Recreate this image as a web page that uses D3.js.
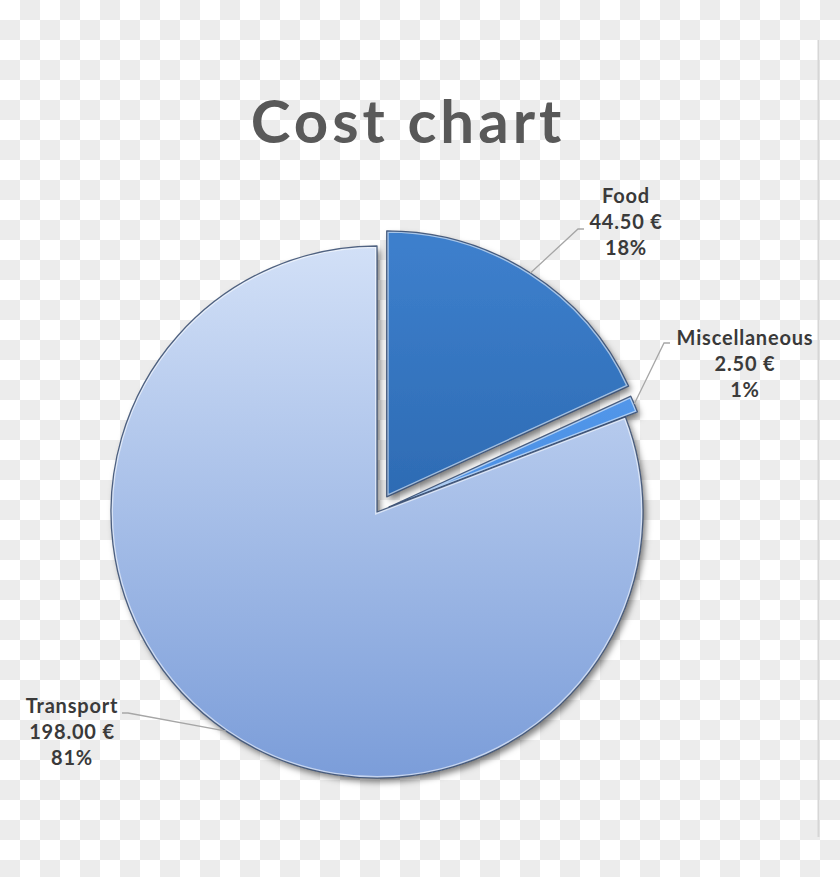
<!DOCTYPE html>
<html>
<head>
<meta charset="utf-8">
<script src="https://cdn.jsdelivr.net/npm/d3@7"></script>
<style>
  html, body { margin: 0; padding: 0; }
  body { width: 840px; height: 877px; overflow: hidden; }
</style>
</head>
<body>
<div id="chart"></div>
<script>
// chart data
var categories = ["Food", "Miscellaneous", "Transport"];
var costs = [44.50, 2.50, 198.00];
var title = "Cost chart";

(function() {
    var width = 840,
        height = 877;

    var cx = 377, cy = 512, radius = 266;

    // how far each slice is pulled out from the centre (px)
    var explode = { "Food": 18, "Miscellaneous": 13, "Transport": 0 };

    // gradient stops per slice (top, bottom)
    var fills = {
        "Food": ["#3d7fcc", "#1c5598"],
        "Miscellaneous": ["#5b9ff0", "#3a80d8"],
        "Transport": ["#d2e0f7", "#7b9dd9"]
    };

    // label anchor (centre x, first baseline)
    var labelPos = {
        "Food": [626, 203],
        "Miscellaneous": [745, 345],
        "Transport": [72, 713]
    };
    // where the leader line leaves the label
    var leaderStart = {
        "Food": [[584, 229], [578, 229]],
        "Miscellaneous": [[670, 343], [664, 343]],
        "Transport": [[122, 713], [128, 713]]
    };

    var svg = d3.select("#chart")
        .append("svg")
        .attr("width", width)
        .attr("height", height);

    var defs = svg.append("defs");

    // checkerboard backdrop
    var pattern = defs.append("pattern")
        .attr("id", "checker")
        .attr("width", 40)
        .attr("height", 40)
        .attr("patternUnits", "userSpaceOnUse");
    pattern.append("rect").attr("width", 40).attr("height", 40).attr("fill", "#ffffff");
    pattern.append("rect").attr("x", 20).attr("y", 0).attr("width", 20).attr("height", 20).attr("fill", "#ececec");
    pattern.append("rect").attr("x", 0).attr("y", 20).attr("width", 20).attr("height", 20).attr("fill", "#ececec");

    svg.append("rect")
        .attr("width", width)
        .attr("height", height)
        .attr("fill", "url(#checker)");

    svg.append("rect")
        .attr("x", 817.5)
        .attr("y", 40)
        .attr("width", 2)
        .attr("height", 797)
        .attr("fill", "#d6d6d6");

    var shadow = defs.append("filter")
        .attr("id", "shadow")
        .attr("x", "-20%").attr("y", "-20%")
        .attr("width", "140%").attr("height", "140%");
    shadow.append("feDropShadow")
        .attr("dx", 3)
        .attr("dy", 4)
        .attr("stdDeviation", 3)
        .attr("flood-color", "#000")
        .attr("flood-opacity", 0.5);

    var data = categories.map(function(c, i) {
        return { name: c, value: costs[i] };
    });

    var total = d3.sum(costs);

    var pie = d3.pie()
        .sort(null)
        .value(function(d) { return d.value; });

    var arc = d3.arc()
        .innerRadius(0)
        .outerRadius(radius);

    var arcs = pie(data);

    function offsetOf(d) {
        var mid = (d.startAngle + d.endAngle) / 2,
            e = explode[d.data.name];
        return [cx + Math.sin(mid) * e, cy - Math.cos(mid) * e];
    }

    // vertical gradients, laid out in each slice's own (shifted) space
    arcs.forEach(function(d, i) {
        var o = offsetOf(d),
            c = d.data.name;
        var g = defs.append("linearGradient")
            .attr("id", "grad" + i)
            .attr("gradientUnits", "userSpaceOnUse")
            .attr("x1", 0).attr("x2", 0)
            .attr("y1", cy - radius - o[1]).attr("y2", cy + radius - o[1]);
        g.append("stop").attr("offset", "0%").attr("stop-color", fills[c][0]);
        g.append("stop").attr("offset", "100%").attr("stop-color", fills[c][1]);

        // clip paths for inner bevel highlight
        defs.append("clipPath")
            .attr("id", "clip" + i)
            .append("path")
            .attr("d", arc(d));
    });

    var slices = svg.append("g")
        .selectAll(".slice")
        .data(arcs)
        .enter().append("g")
        .attr("class", "slice")
        .attr("transform", function(d) {
            var o = offsetOf(d);
            return "translate(" + o[0] + "," + o[1] + ")";
        });

    slices.append("path")
        .attr("d", arc)
        .attr("fill", function(d, i) {
            return "url(#grad" + i + ")";
        })
        .attr("filter", "url(#shadow)");

    slices.append("path")
        .attr("d", arc)
        .attr("fill", "none")
        .attr("stroke", "#ffffff")
        .attr("stroke-opacity", 0.55)
        .attr("stroke-width", 4)
        .attr("clip-path", function(d, i) { return "url(#clip" + i + ")"; });

    slices.append("path")
        .attr("d", arc)
        .attr("fill", "none")
        .attr("stroke", "#34496c")
        .attr("stroke-opacity", 0.85)
        .attr("stroke-width", 1.3)
        .attr("stroke-linejoin", "round");

    // leader lines
    svg.append("g")
        .selectAll(".leader")
        .data(arcs)
        .enter().append("polyline")
        .attr("class", "leader")
        .attr("fill", "none")
        .attr("stroke", "#a6a6a6")
        .attr("stroke-width", 1.3)
        .attr("points", function(d) {
            var o = offsetOf(d),
                mid = (d.startAngle + d.endAngle) / 2,
                end = [o[0] + Math.sin(mid) * radius, o[1] - Math.cos(mid) * radius],
                s = leaderStart[d.data.name];
            return [s[0], s[1], end].map(function(p) { return p.join(","); }).join(" ");
        });

    // labels
    var fmt = d3.format(".2f");
    var labels = svg.append("g")
        .selectAll(".label")
        .data(arcs)
        .enter().append("text")
        .attr("class", "label")
        .attr("text-anchor", "middle")
        .attr("font-family", "Lato, 'Open Sans', sans-serif")
        .attr("font-weight", "bold")
        .attr("font-size", 20)
        .attr("letter-spacing", 0.8)
        .attr("fill", "#3a3a3a")
        .attr("x", function(d) { return labelPos[d.data.name][0]; })
        .attr("y", function(d) { return labelPos[d.data.name][1]; });

    labels.each(function(d) {
        var t = d3.select(this),
            x = labelPos[d.data.name][0],
            lines = [d.data.name, fmt(d.data.value) + " €", Math.round(d.data.value / total * 100) + "%"];
        lines.forEach(function(l, k) {
            t.append("tspan")
                .attr("x", x)
                .attr("dy", k === 0 ? 0 : 26)
                .text(l);
        });
    });

    svg.append("text")
        .attr("x", 408)
        .attr("y", 143)
        .attr("text-anchor", "middle")
        .attr("font-family", "Lato, 'Open Sans', sans-serif")
        .attr("font-weight", "bold")
        .attr("font-size", 60)
        .attr("letter-spacing", 4)
        .attr("fill", "#595959")
        .text(title);
})();
</script>
</body>
</html>
